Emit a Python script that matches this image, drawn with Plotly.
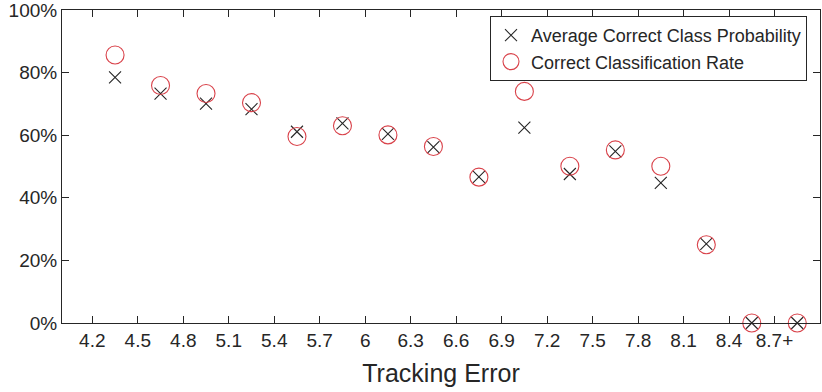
import plotly.graph_objects as go

x_pos = [4.35, 4.65, 4.95, 5.25, 5.55, 5.85, 6.15, 6.45, 6.75, 7.05, 7.35, 7.65, 7.95, 8.25, 8.55, 8.85]
avg_prob = [78.5, 73.3, 70.1, 68.3, 61.1, 63.8, 60.4, 56.2, 46.7, 62.4, 47.6, 54.8, 44.8, 25.3, 0, 0]
class_rate = [85.6, 75.9, 73.3, 70.4, 59.6, 63.0, 60.1, 56.4, 46.6, 74.0, 50.1, 55.3, 50.1, 25.0, 0, 0]
tick_vals = [4.2, 4.5, 4.8, 5.1, 5.4, 5.7, 6.0, 6.3, 6.6, 6.9, 7.2, 7.5, 7.8, 8.1, 8.4, 8.7]
tick_text = ["4.2", "4.5", "4.8", "5.1", "5.4", "5.7", "6", "6.3", "6.6", "6.9", "7.2", "7.5", "7.8", "8.1", "8.4", "8.7+"]
y_ticks = [0, 20, 40, 60, 80, 100]
y_text = ["0%", "20%", "40%", "60%", "80%", "100%"]

dark = "#262626"
red = "#d9424a"

fig = go.Figure()
fig.add_trace(go.Scatter(
    x=x_pos, y=avg_prob, mode="markers", name="Average Correct Class Probability",
    marker=dict(symbol="x-thin-open", size=12, color=dark, line=dict(width=1.1, color=dark)),
    cliponaxis=False,
))
fig.add_trace(go.Scatter(
    x=x_pos, y=class_rate, mode="markers", name="Correct Classification Rate",
    marker=dict(symbol="circle-open", size=18, color=red, line=dict(width=1.1, color=red)),
    cliponaxis=False,
))

axis_common = dict(
    showline=True, linecolor=dark, linewidth=1, mirror="ticks",
    ticks="inside", ticklen=7, tickcolor=dark, tickwidth=1,
    showgrid=False, zeroline=False, automargin=False,
    ticklabeloverflow="allow",
    tickfont=dict(family="Liberation Sans, Arial, sans-serif", size=19, color=dark),
)

fig.update_layout(
    width=822, height=392,
    margin=dict(l=62, r=2, t=10, b=69),
    paper_bgcolor="white", plot_bgcolor="white",
    font=dict(family="Liberation Sans, Arial, sans-serif", color=dark),
    xaxis=dict(
        range=[4.0, 9.0], tickmode="array", tickvals=tick_vals, ticktext=tick_text,
        title=dict(text="Tracking Error", font=dict(size=25, color=dark), standoff=14),
        **axis_common,
    ),
    yaxis=dict(
        range=[0, 100], tickmode="array", tickvals=y_ticks, ticktext=y_text,
        **axis_common,
    ),
    legend=dict(
        x=(807 - 62) / (820 - 62), xanchor="right",
        y=(323 - 16) / (323 - 10), yanchor="top",
        bgcolor="white", bordercolor=dark, borderwidth=1,
        font=dict(size=18, color=dark),
        tracegroupgap=0,
    ),
    showlegend=True,
)

fig.write_html("out.html", config={"displayModeBar": False},
               post_script="document.body.style.margin='0';")
